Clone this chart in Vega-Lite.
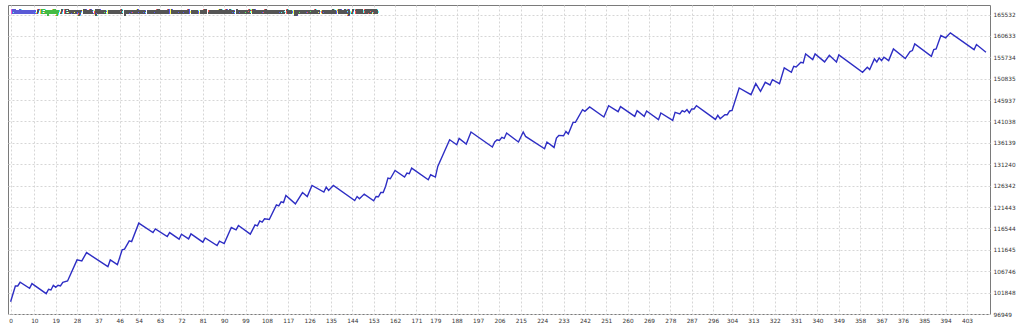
{
  "$schema": "https://vega.github.io/schema/vega-lite/v6.json",
  "width": 982,
  "height": 309,
  "autosize": {"type": "none"},
  "padding": {"left": 8, "top": 5, "right": 34, "bottom": 17},
  "background": "#ffffff",
  "config": {
    "view": {"stroke": "#7a7a7a", "strokeWidth": 1, "fill": "#ffffff"},
    "axis": {
      "labelFont": "DejaVu Sans",
      "labelFontSize": 5.8,
      "labelColor": "#333333",
      "gridColor": "#d6d6d6",
      "gridDash": [2, 2],
      "gridWidth": 1,
      "ticks": false,
      "domain": false,
      "title": null
    }
  },
  "data": {
    "values": [
      {"i":0,"v":99770},{"i":2,"v":103372},{"i":3,"v":103372},{"i":4,"v":104220},{"i":8,"v":102844},{"i":9,"v":103899},
      {"i":15,"v":101605},{"i":16,"v":102615},{"i":17,"v":102454},{"i":18,"v":103532},{"i":19,"v":103073},{"i":20,"v":103532},
      {"i":21,"v":103372},{"i":22,"v":104220},{"i":24,"v":104500},{"i":28,"v":109336},{"i":30,"v":109106},{"i":32,"v":111010},
      {"i":41,"v":107799},{"i":42,"v":109336},{"i":45,"v":108257},{"i":47,"v":111629},{"i":48,"v":111790},{"i":50,"v":113694},
      {"i":51,"v":113533},{"i":54,"v":117754},{"i":60,"v":115598},{"i":61,"v":116446},{"i":66,"v":114680},{"i":67,"v":115598},
      {"i":71,"v":114084},{"i":72,"v":115231},{"i":75,"v":114153},{"i":76,"v":115299},{"i":81,"v":113396},{"i":82,"v":114382},
      {"i":87,"v":112616},{"i":88,"v":113625},{"i":90,"v":113074},{"i":93,"v":116744},{"i":95,"v":116217},{"i":96,"v":117203},
      {"i":101,"v":115231},{"i":103,"v":117364},{"i":104,"v":117135},{"i":105,"v":118281},{"i":106,"v":117983},{"i":107,"v":118740},
      {"i":109,"v":118580},{"i":112,"v":121951},{"i":113,"v":121722},{"i":114,"v":122640},{"i":115,"v":122480},{"i":116,"v":124085},
      {"i":120,"v":122181},{"i":123,"v":124773},{"i":125,"v":123855},{"i":127,"v":126378},{"i":132,"v":124865},{"i":133,"v":126011},
      {"i":134,"v":125232},{"i":136,"v":126378},{"i":145,"v":122938},{"i":146,"v":123855},{"i":147,"v":123327},{"i":149,"v":124406},
      {"i":153,"v":122869},{"i":154,"v":123855},{"i":155,"v":123786},{"i":156,"v":124773},{"i":157,"v":124773},{"i":158,"v":126149},
      {"i":159,"v":128076},{"i":160,"v":127916},{"i":162,"v":129819},{"i":166,"v":128305},{"i":167,"v":129223},{"i":168,"v":129063},
      {"i":169,"v":130370},{"i":176,"v":127686},{"i":177,"v":128833},{"i":179,"v":128305},{"i":180,"v":130737},{"i":185,"v":136861},
      {"i":188,"v":135714},{"i":189,"v":137159},{"i":192,"v":135875},{"i":194,"v":138627},{"i":203,"v":135187},{"i":204,"v":136333},
      {"i":205,"v":136861},{"i":206,"v":136701},{"i":207,"v":137389},{"i":208,"v":137159},{"i":209,"v":138398},{"i":214,"v":136333},
      {"i":216,"v":138627},{"i":217,"v":137618},{"i":225,"v":134797},{"i":226,"v":136333},{"i":229,"v":135095},{"i":230,"v":137251},
      {"i":231,"v":137847},{"i":233,"v":137778},{"i":234,"v":138765},{"i":235,"v":138169},{"i":237,"v":140829},{"i":238,"v":140829},
      {"i":241,"v":143743},{"i":242,"v":143353},{"i":244,"v":144362},{"i":250,"v":142068},{"i":252,"v":144660},{"i":256,"v":143284},
      {"i":257,"v":144431},{"i":263,"v":142206},{"i":264,"v":143513},{"i":267,"v":142206},{"i":268,"v":143444},{"i":273,"v":141449},
      {"i":274,"v":142986},{"i":279,"v":141288},{"i":280,"v":143123},{"i":282,"v":142756},{"i":283,"v":143513},{"i":284,"v":143215},
      {"i":285,"v":143743},{"i":286,"v":142986},{"i":287,"v":143904},{"i":288,"v":143904},{"i":289,"v":144660},{"i":297,"v":141518},
      {"i":298,"v":142435},{"i":299,"v":141678},{"i":301,"v":142595},{"i":302,"v":142595},{"i":303,"v":143444},{"i":304,"v":143581},
      {"i":307,"v":148720},{"i":312,"v":147183},{"i":314,"v":149706},{"i":316,"v":147940},{"i":318,"v":150005},{"i":320,"v":149408},
      {"i":321,"v":150624},{"i":324,"v":149706},{"i":326,"v":153308},{"i":329,"v":152298},{"i":330,"v":153675},{"i":331,"v":153537},
      {"i":333,"v":154592},{"i":334,"v":154454},{"i":335,"v":156519},{"i":338,"v":155212},{"i":339,"v":156519},{"i":343,"v":154684},
      {"i":345,"v":156198},{"i":348,"v":154684},{"i":349,"v":156290},{"i":359,"v":152298},{"i":361,"v":153445},{"i":362,"v":152918},
      {"i":364,"v":155372},{"i":365,"v":154684},{"i":366,"v":155601},{"i":367,"v":154982},{"i":368,"v":155739},{"i":370,"v":154982},
      {"i":372,"v":157666},{"i":377,"v":155441},{"i":379,"v":157047},{"i":380,"v":157276},{"i":381,"v":158813},{"i":388,"v":155968},
      {"i":389,"v":157505},{"i":390,"v":157666},{"i":392,"v":160717},{"i":394,"v":160189},{"i":396,"v":161336},{"i":406,"v":157505},
      {"i":407,"v":158652},{"i":411,"v":156900}
    ]
  },
  "encoding": {
    "x": {
      "field": "i", "type": "quantitative",
      "scale": {"domain": [-1.1, 412.7], "nice": false, "zero": false},
      "axis": {
        "values": [0,10,19,28,37,46,54,63,72,81,90,99,108,117,126,135,144,153,162,171,179,188,197,206,215,224,233,242,251,260,269,278,287,296,304,313,322,331,340,349,358,367,376,385,394,403],
        "labelPadding": 3, "labelOverlap": false, "labelFlush": false
      }
    },
    "y": {
      "field": "v", "type": "quantitative",
      "scale": {"domain": [96949, 167713], "nice": false, "zero": false},
      "axis": {
        "orient": "right",
        "values": [96949,101848,106746,111645,116544,121443,126342,131240,136139,141038,145937,150835,155734,160633,165532],
        "format": "d",
        "labelPadding": 3, "labelOverlap": false, "labelFlush": false
      }
    }
  },
  "layer": [
    {"mark": {"type": "line", "color": "#2e2ec4", "strokeWidth": 1.4, "clip": true}},
    {
      "mark": {"type": "text", "text": "Balance", "font": "Liberation Sans", "fontSize": 6.6, "color": "#5a5ad6", "align": "left", "baseline": "middle", "dx": 3.5, "dy": 6.5},
      "encoding": {"x": {"datum": -1.1, "type": "quantitative"}, "y": {"datum": 167713, "type": "quantitative"}}
    },
    {
      "mark": {"type": "text", "text": "/", "font": "Liberation Sans", "fontSize": 6.6, "color": "#555555", "align": "left", "baseline": "middle", "dx": 29.1, "dy": 6.5},
      "encoding": {"x": {"datum": -1.1, "type": "quantitative"}, "y": {"datum": 167713, "type": "quantitative"}}
    },
    {
      "mark": {"type": "text", "text": "Equity", "font": "Liberation Sans", "fontSize": 6.6, "color": "#44bb44", "align": "left", "baseline": "middle", "dx": 32.7, "dy": 6.5},
      "encoding": {"x": {"datum": -1.1, "type": "quantitative"}, "y": {"datum": 167713, "type": "quantitative"}}
    },
    {
      "mark": {"type": "text", "text": "/ Every tick (the most precise method based on all available least timeframes to generate each tick) / 99.90%", "font": "Liberation Sans", "fontSize": 6.6, "color": "#555555", "align": "left", "baseline": "middle", "dx": 52.8, "dy": 6.5},
      "encoding": {"x": {"datum": -1.1, "type": "quantitative"}, "y": {"datum": 167713, "type": "quantitative"}}
    }
  ]
}
